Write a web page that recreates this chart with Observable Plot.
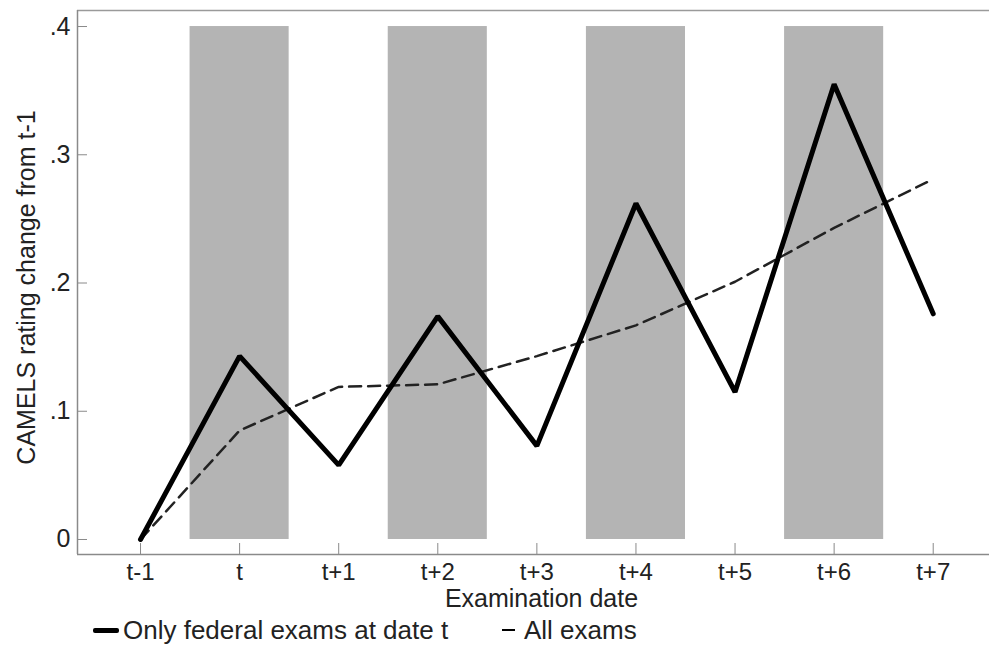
<!DOCTYPE html>
<html>
<head>
<meta charset="utf-8">
<script src="https://cdn.jsdelivr.net/npm/d3@7"></script>
<script src="https://cdn.jsdelivr.net/npm/@observablehq/plot@0.6"></script>
<style>
  html, body { margin: 0; padding: 0; background: #fff; }
  #chart { position: relative; width: 989px; }
  .legend { position: relative; width: 989px; height: 44px; font-family: "Liberation Sans", Arial, sans-serif; font-size: 26px; color: #222; }
  .legend .item { position: absolute; top: 0; height: 44px; display: flex; align-items: center; }
  .legend .key { display: inline-block; background: #000; margin-right: 4px; }
</style>
</head>
<body>
<div id="chart"></div>
<script>
// ---- data ----
const dateLabels = ["t-1", "t", "t+1", "t+2", "t+3", "t+4", "t+5", "t+6", "t+7"];
const federalOnly = [0, 0.143, 0.058, 0.174, 0.073, 0.262, 0.115, 0.355, 0.176];
const allExams    = [0, 0.085, 0.119, 0.121, 0.143, 0.167, 0.201, 0.243, 0.281];
const shadedDates = ["t", "t+2", "t+4", "t+6"];
const shadeTop = 0.4;
const yTicks = [0, 0.1, 0.2, 0.3, 0.4];
const seriesNames = ["Only federal exams at date t", "All exams"];

// ---- layout ----
const xDomain = [-0.636, 8.568];
const yDomain = [-0.0117, 0.4125];
const idx = d3.range(dateLabels.length);
const fedRows = idx.map(i => ({i, v: federalOnly[i]}));
const allRows = idx.map(i => ({i, v: allExams[i]}));
const shadeRows = shadedDates.map(d => ({i: dateLabels.indexOf(d)}));
const fmtY = d => d === 0 ? "0" : d3.format(".1f")(d).replace(/^0/, "");

const axisColor = "#8a8a8a";
const textColor = "#222";

const plot = Plot.plot({
  width: 989,
  height: 610,
  marginLeft: 77,
  marginRight: 0,
  marginTop: 10,
  marginBottom: 56,
  style: {fontFamily: "'Liberation Sans', Arial, sans-serif", fontSize: "25px", color: textColor, background: "#fff"},
  x: {type: "linear", domain: xDomain, axis: null},
  y: {domain: yDomain, axis: null},
  marks: [
    Plot.rectY(shadeRows, {x1: d => d.i - 0.5, x2: d => d.i + 0.5, y1: 0, y2: shadeTop, fill: "#b4b4b4"}),
    Plot.ruleY([yDomain[1]], {stroke: "#9a9a9a", strokeWidth: 1.5}),
    Plot.ruleX([xDomain[0]], {stroke: axisColor, strokeWidth: 1.5}),
    Plot.ruleY([yDomain[0]], {stroke: axisColor, strokeWidth: 1.5}),
    Plot.axisY(yTicks, {anchor: "left", tickSize: -10, tickPadding: 17, tickFormat: fmtY, stroke: axisColor, fill: textColor, fontSize: 25, label: null}),
    Plot.axisX(idx, {anchor: "bottom", tickSize: -11, tickPadding: 19, tickFormat: i => dateLabels[i], stroke: axisColor, fill: textColor, fontSize: 24, label: null}),
    Plot.line(allRows, {x: "i", y: "v", stroke: "#222", strokeWidth: 2.5, strokeDasharray: "12,7"}),
    Plot.line(fedRows, {x: "i", y: "v", stroke: "#000", strokeWidth: 5, strokeLinejoin: "miter", strokeLinecap: "round"}),
    Plot.text(["Examination date"], {frameAnchor: "bottom", dx: 8, dy: 44, lineAnchor: "middle", textAnchor: "middle", fontSize: 25, fill: textColor}),
    Plot.text(["CAMELS rating change from t-1"], {frameAnchor: "left", dx: -51, dy: 5, rotate: -90, lineAnchor: "middle", textAnchor: "middle", fontSize: 25, fill: textColor})
  ]
});
document.getElementById("chart").appendChild(plot);

// ---- legend ----
const legend = document.createElement("div");
legend.className = "legend";
legend.innerHTML = `
  <div class="item" style="left:93px;top:-2px"><span class="key" style="width:26px;height:5px;border-radius:2px"></span><span>${seriesNames[0]}</span></div>
  <div class="item" style="left:502px;top:-2px"><span class="key" style="width:13px;height:2.5px;margin-right:9px"></span><span>${seriesNames[1]}</span></div>`;
document.body.appendChild(legend);
</script>
</body>
</html>
